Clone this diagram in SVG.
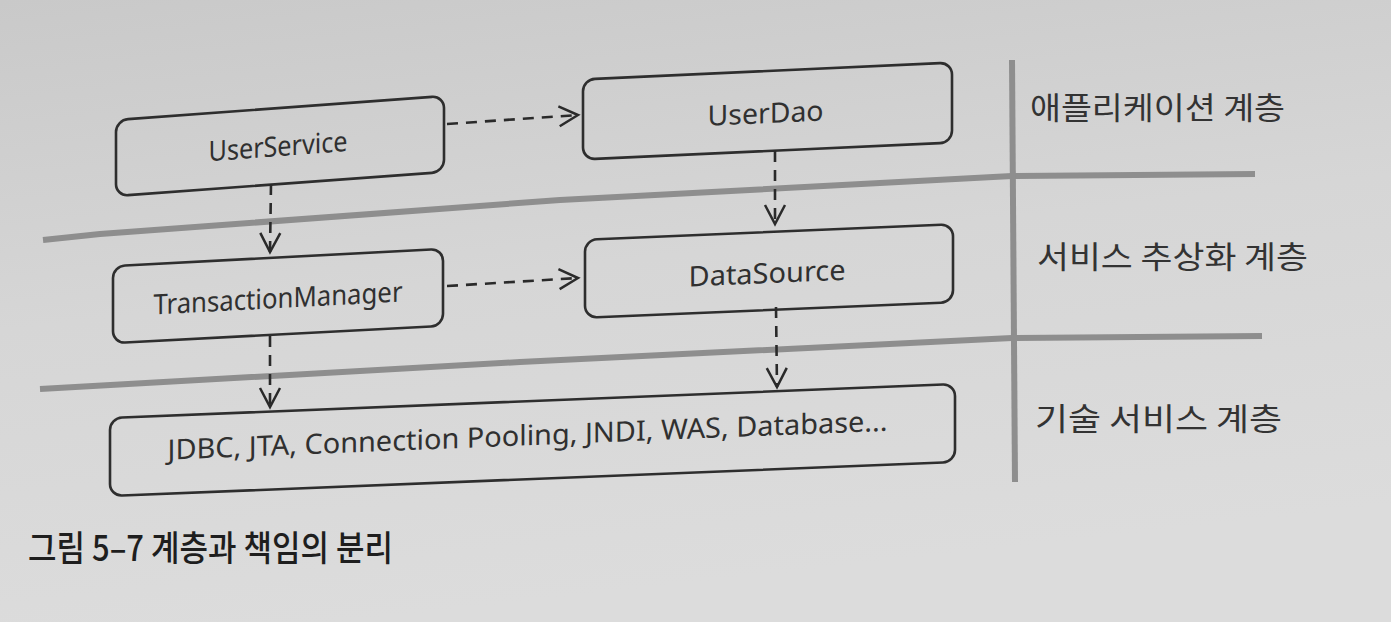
<svg xmlns="http://www.w3.org/2000/svg" width="1391" height="622" viewBox="0 0 1391 622">
  <defs>
    <linearGradient id="paper" x1="0" y1="0" x2="0.25" y2="1">
      <stop offset="0" stop-color="#c9c9c9"/>
      <stop offset="0.5" stop-color="#d6d6d6"/>
      <stop offset="1" stop-color="#dcdcdc"/>
    </linearGradient>
    <marker id="chevron" markerUnits="userSpaceOnUse" viewBox="-22 -12 26 24" markerWidth="26" markerHeight="24" refX="0" refY="0" orient="auto" overflow="visible">
      <path d="M-19,-10 L0,0 L-19,10" fill="none" stroke="#2a2a2a" stroke-width="2.5" stroke-linejoin="miter" stroke-dasharray="none"/>
    </marker>
    <style>
      .box { fill: none; stroke: #2e2e2e; stroke-width: 2.6; }
      .lbl { font-family: "Noto Sans", "Open Sans", "Liberation Sans", sans-serif; font-size: 28px; fill: #303030; text-anchor: middle; }
      .layer { font-family: "Noto Sans CJK KR", "Noto Sans", sans-serif; font-size: 31px; fill: #333333; }
      .divider { fill: none; stroke: #8e8e8e; stroke-width: 6; stroke-linejoin: round; stroke-linecap: butt; }
      .dep { fill: none; stroke: #2a2a2a; stroke-width: 2.6; stroke-dasharray: 11 8; marker-end: url(#chevron); }
      .caption { font-family: "Noto Sans CJK KR", "Noto Sans", sans-serif; font-size: 35px; font-weight: 500; fill: #1e1e1e; }
    </style>
  </defs>

  <!-- page -->
  <rect x="0" y="0" width="1391" height="622" fill="url(#paper)"/>

  <!-- layer dividers -->
  <g id="dividers">
    <path class="divider" d="M43,240 L100,234 L560,200 L1012,176 L1255,174"/>
    <path class="divider" d="M40,389 L520,362 L1012,338 L1262,336"/>
    <path class="divider" d="M1012,60 L1015,482" stroke-width="5"/>
  </g>

  <!-- layer names -->
  <g id="layer-names">
    <text class="layer" x="1030" y="119" textLength="255" lengthAdjust="spacingAndGlyphs">애플리케이션 계층</text>
    <text class="layer" x="1037" y="268" textLength="271" lengthAdjust="spacingAndGlyphs">서비스 추상화 계층</text>
    <text class="layer" x="1035" y="430" textLength="247" lengthAdjust="spacingAndGlyphs">기술 서비스 계층</text>
  </g>

  <!-- components -->
  <g id="userService" transform="translate(280,146) skewY(-4.2)">
    <rect class="box" x="-164" y="-38" width="328" height="76" rx="12"/>
    <text class="lbl" x="-2" y="10" textLength="139" lengthAdjust="spacingAndGlyphs">UserService</text>
  </g>

  <g id="userDao" transform="translate(767.5,111) skewY(-2.6)">
    <rect class="box" x="-184.5" y="-40" width="369" height="80" rx="12"/>
    <text class="lbl" x="-2" y="12" textLength="116" lengthAdjust="spacingAndGlyphs">UserDao</text>
  </g>

  <g id="transactionManager" transform="translate(278,296) skewY(-3)">
    <rect class="box" x="-165" y="-38.5" width="330" height="77" rx="12"/>
    <text class="lbl" x="0" y="12" textLength="249" lengthAdjust="spacingAndGlyphs">TransactionManager</text>
  </g>

  <g id="dataSource" transform="translate(769,271) skewY(-2.4)">
    <rect class="box" x="-184" y="-39" width="368" height="78" rx="12"/>
    <text class="lbl" x="-2" y="12" textLength="157" lengthAdjust="spacingAndGlyphs">DataSource</text>
  </g>

  <g id="techServices" transform="translate(532.5,440) skewY(-2.3)">
    <rect class="box" x="-422.5" y="-39" width="845" height="78" rx="12"/>
    <text class="lbl" x="-5" y="5" textLength="720" lengthAdjust="spacingAndGlyphs">JDBC, JTA, Connection Pooling, JNDI, WAS, Database...</text>
  </g>

  <!-- dependencies -->
  <g id="connectors">
    <path class="dep" d="M447,124 L578,115"/>
    <path class="dep" d="M447,286 L578,278"/>
    <path class="dep" d="M271,184 L270,252"/>
    <path class="dep" d="M270,336 L270,407"/>
    <path class="dep" d="M775,151 L775,224"/>
    <path class="dep" d="M776,307 L777,387"/>
  </g>

  <!-- figure caption -->
  <text class="caption" x="28" y="561" textLength="365" lengthAdjust="spacingAndGlyphs">그림 5–7 계층과 책임의 분리</text>
</svg>
